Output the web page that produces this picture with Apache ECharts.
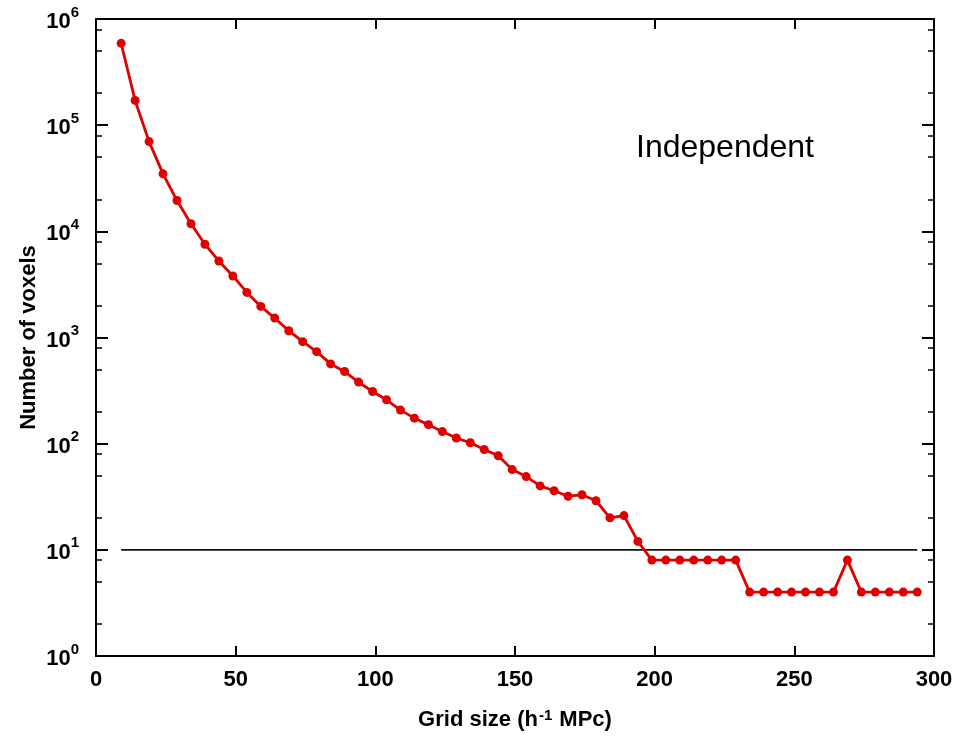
<!DOCTYPE html>
<html>
<head>
<meta charset="utf-8">
<script src="https://cdn.jsdelivr.net/npm/echarts@6/dist/echarts.min.js"></script>
<style>
	html, body { margin: 0; padding: 0; background: #fff; }
	#chart { width: 974px; height: 739px; }
</style>
</head>
<body>
<div id="chart"></div>
<script>
	// grid size (h^-1 MPc) and voxel counts
	var gridSize = [9, 14, 19, 24, 29, 34, 39, 44, 49, 54, 59, 64, 69, 74, 79, 84, 89, 94, 99, 104,
		109, 114, 119, 124, 129, 134, 139, 144, 149, 154, 159, 164, 169, 174, 179, 184, 189, 194,
		199, 204, 209, 214, 219, 224, 229, 234, 239, 244, 249, 254, 259, 264, 269, 274, 279, 284, 289, 294];
	var voxelCount = [590000, 171000, 70000, 34800, 19500, 11800, 7550, 5260, 3800, 2660, 1963, 1524, 1159, 914, 736, 564, 478, 380, 310, 259,
		207, 174, 151, 130, 113, 102, 88, 77, 57, 49, 40, 36, 32, 33, 29, 20, 21, 12,
		8, 8, 8, 8, 8, 8, 8, 4, 4, 4, 4, 4, 4, 4, 8, 4, 4, 4, 4, 4];

	// horizontal reference line at 10 voxels
	var refLineX = [9, 294];
	var refLineY = [10, 10];

	// axis ticks
	var xTicks = [0, 50, 100, 150, 200, 250, 300];
	var yMinorTicks = [2, 5, 8, 20, 50, 80, 200, 500, 800, 2000, 5000, 8000,
		20000, 50000, 80000, 200000, 500000, 800000];

	var seriesData = gridSize.map(function(x, i) { return [x, voxelCount[i]]; });
	var refData = refLineX.map(function(x, i) { return [x, refLineY[i]]; });
	var minorLog = yMinorTicks.map(function(v) { return Math.log10(v); });

	var font = 'Liberation Sans';
	var myChart = echarts.init(document.getElementById('chart'));

	var frameLine = { onZero: false, lineStyle: { color: '#000', width: 2 } };
	var majorTick = { inside: true, length: 10, lineStyle: { color: '#000', width: 2 } };
	var minorTick = { inside: true, length: 6, customValues: minorLog, lineStyle: { color: '#000', width: 1.5 } };

	var option = {
		animation: false,
		backgroundColor: '#fff',
		title: {
			text: 'Independent',
			left: 631,
			top: 127,
			textStyle: { fontFamily: font, fontWeight: 'normal', fontSize: 32, color: '#000' }
		},
		grid: { left: 96, right: 40, top: 19, bottom: 83, containLabel: false },
		xAxis: [
			{
				type: 'value', min: 0, max: 300, interval: 50, position: 'bottom',
				name: '{a|Grid size (h}{s|-1}{a| MPc)}',
				nameLocation: 'middle', nameGap: 52,
				nameTextStyle: {
					rich: {
						a: { fontFamily: font, fontWeight: 'bold', fontSize: 22, color: '#000' },
						s: { fontFamily: font, fontWeight: 'bold', fontSize: 15, color: '#000', verticalAlign: 'top', padding: [0, 1, 9, 1] }
					}
				},
				axisLine: frameLine,
				axisTick: majorTick,
				axisLabel: {
					margin: 13, color: '#000', fontFamily: font, fontWeight: 'bold', fontSize: 22,
					customValues: xTicks
				},
				splitLine: { show: false }
			},
			{
				type: 'value', min: 0, max: 300, interval: 50, position: 'top',
				axisLine: frameLine,
				axisTick: majorTick,
				axisLabel: { show: false },
				splitLine: { show: false }
			}
		],
		yAxis: [
			{
				type: 'log', min: 1, max: 1000000, logBase: 10, position: 'left',
				name: 'Number of voxels',
				nameLocation: 'middle', nameGap: 56, nameRotate: 90,
				nameMoveOverlap: false,
				nameTextStyle: { fontFamily: font, fontWeight: 'bold', fontSize: 22, color: '#000' },
				axisLine: frameLine,
				axisTick: { inside: true, length: 12, lineStyle: { color: '#000', width: 2 } },
				axisLabel: {
					margin: 17,
					formatter: function(v) {
						return '{b|10}{s|' + Math.round(Math.log10(v)) + '}';
					},
					rich: {
						b: { fontFamily: font, fontWeight: 'bold', fontSize: 22, color: '#000', padding: [6, 0, 0, 0] },
						s: { fontFamily: font, fontWeight: 'bold', fontSize: 15, color: '#000', verticalAlign: 'top', padding: [0, 0, 10, 0] }
					}
				},
				splitLine: { show: false }
			},
			{
				type: 'log', min: 1, max: 1000000, logBase: 10, position: 'right',
				axisLine: frameLine,
				axisTick: { inside: true, length: 12, lineStyle: { color: '#000', width: 2 } },
				axisLabel: { show: false },
				splitLine: { show: false }
			},
			{
				// minor ticks at 2, 5, 8 per decade, in log units
				type: 'value', min: 0, max: 6, position: 'left',
				axisLine: { show: false, onZero: false },
				axisTick: minorTick,
				axisLabel: { show: false },
				splitLine: { show: false }
			},
			{
				type: 'value', min: 0, max: 6, position: 'right',
				axisLine: { show: false, onZero: false },
				axisTick: minorTick,
				axisLabel: { show: false },
				splitLine: { show: false }
			}
		],
		series: [
			{
				name: 'threshold',
				type: 'line',
				data: refData,
				symbol: 'none',
				lineStyle: { color: '#111', width: 1.8 },
				z: 1
			},
			{
				name: 'Independent',
				type: 'line',
				data: seriesData,
				symbol: 'circle',
				symbolSize: 9,
				itemStyle: { color: '#e00000' },
				lineStyle: { color: '#e00000', width: 2.8 },
				z: 3
			}
		]
	};
	myChart.setOption(option);
</script>
</body>
</html>
